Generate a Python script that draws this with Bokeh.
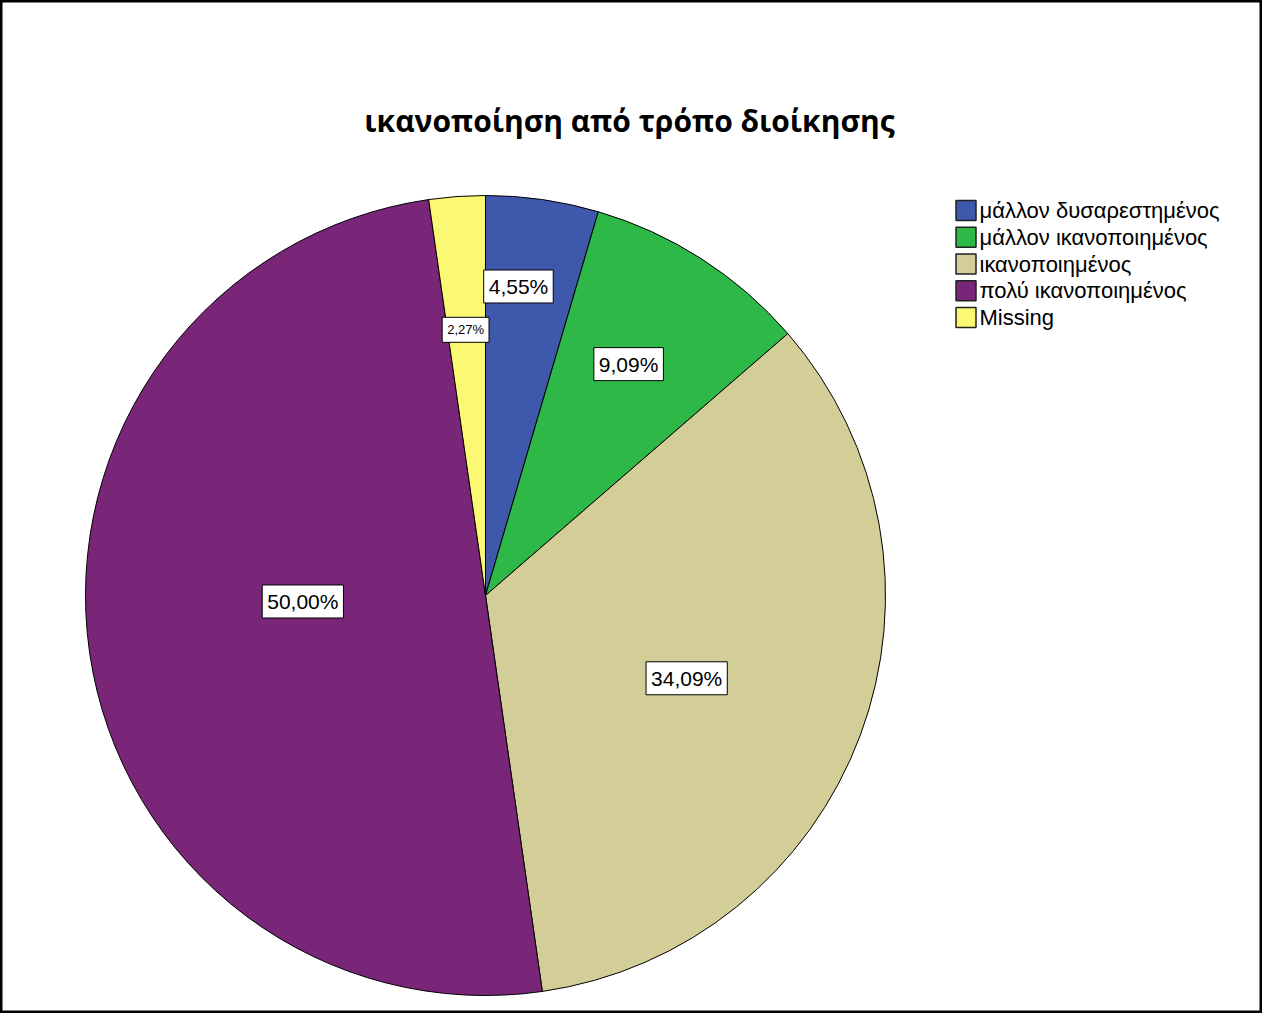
import math
from bokeh.plotting import figure
from bokeh.models import ColumnDataSource, Label
from bokeh.core.properties import value
from bokeh.embed import file_html
from bokeh.resources import INLINE

title_text = "ικανοποίηση από τρόπο διοίκησης"
categories = ["μάλλον δυσαρεστημένος", "μάλλον ικανοποιημένος", "ικανοποιημένος",
              "πολύ ικανοποιημένος", "Missing"]
percents = [4.55, 9.09, 34.09, 50.00, 2.27]
colors = ["#3E58AC", "#2EB848", "#D3CE97", "#7A2678", "#FBF873"]

# layout: extra radial shift (px) and angular turn (deg) of each label from the slice centroid
label_nudge = [45, 9, -1, 13, 0]
label_turn = [2.1, 1.0, -1.9, -6.3, 0.2]

W, H = 1262, 1013
p = figure(width=W, height=H, x_range=(0, W), y_range=(0, H),
           output_backend="svg", toolbar_location=None, min_border=0)
p.axis.visible = False
p.grid.visible = False
p.outline_line_color = "black"
p.outline_line_width = 4
p.background_fill_color = "white"

cx, cy, R = 485, 418, 400
total = sum(percents)
starts, ends, lx, ly, labels, fsizes, pads = [], [], [], [], [], [], []
cum = 0.0
for v, nd, tn in zip(percents, label_nudge, label_turn):
    a0 = math.pi / 2 - cum / total * 2 * math.pi
    cum += v
    a1 = math.pi / 2 - cum / total * 2 * math.pi
    starts.append(a0)
    ends.append(a1)
    half = (a0 - a1) / 2
    mid = (a0 + a1) / 2 + math.radians(tn)
    d = (2.0 / 3.0) * R * math.sin(half) / half + nd
    lx.append(cx + d * math.cos(mid))
    ly.append(cy + d * math.sin(mid))
    labels.append(f"{v:.2f}".replace(".", ",") + "%")
    fsizes.append("21px" if v >= 4 else "13px")

src = ColumnDataSource(dict(start=starts, end=ends, color=colors, cat=categories,
                            lx=lx, ly=ly, label=labels, fs=fsizes))
p.wedge(x=cx, y=cy, radius=R, start_angle="start", end_angle="end",
        direction="clock", fill_color="color", line_color="black",
        line_width=1, source=src)

p.text(x="lx", y="ly", text="label", source=src, text_font=value("Liberation Sans"),
       text_font_size="fs", text_align="center", text_baseline="middle",
       text_color="black", background_fill_color="white",
       border_line_color="black", border_line_width=1, padding=(5, 5))

p.add_layout(Label(x=629, y=H - 120, text=title_text, text_font="Open Sans",
                   text_font_style="bold", text_font_size="30px", text_color="black",
                   text_align="center", text_baseline="middle"))

# legend drawn as glyphs
leg_y = [H - (210 + 26.75 * i) for i in range(len(categories))]
leg_src = ColumnDataSource(dict(y=leg_y, color=colors, cat=categories))
p.rect(x=965.5, y="y", width=20, height=20, fill_color="color",
       line_color="#222222", line_width=1.5, source=leg_src)
p.text(x=979, y="y", text="cat", source=leg_src, text_font=value("Liberation Sans"),
       text_font_size="22px", text_align="left", text_baseline="middle",
       text_color="black")

open("out.html", "w").write(file_html(p, INLINE))
